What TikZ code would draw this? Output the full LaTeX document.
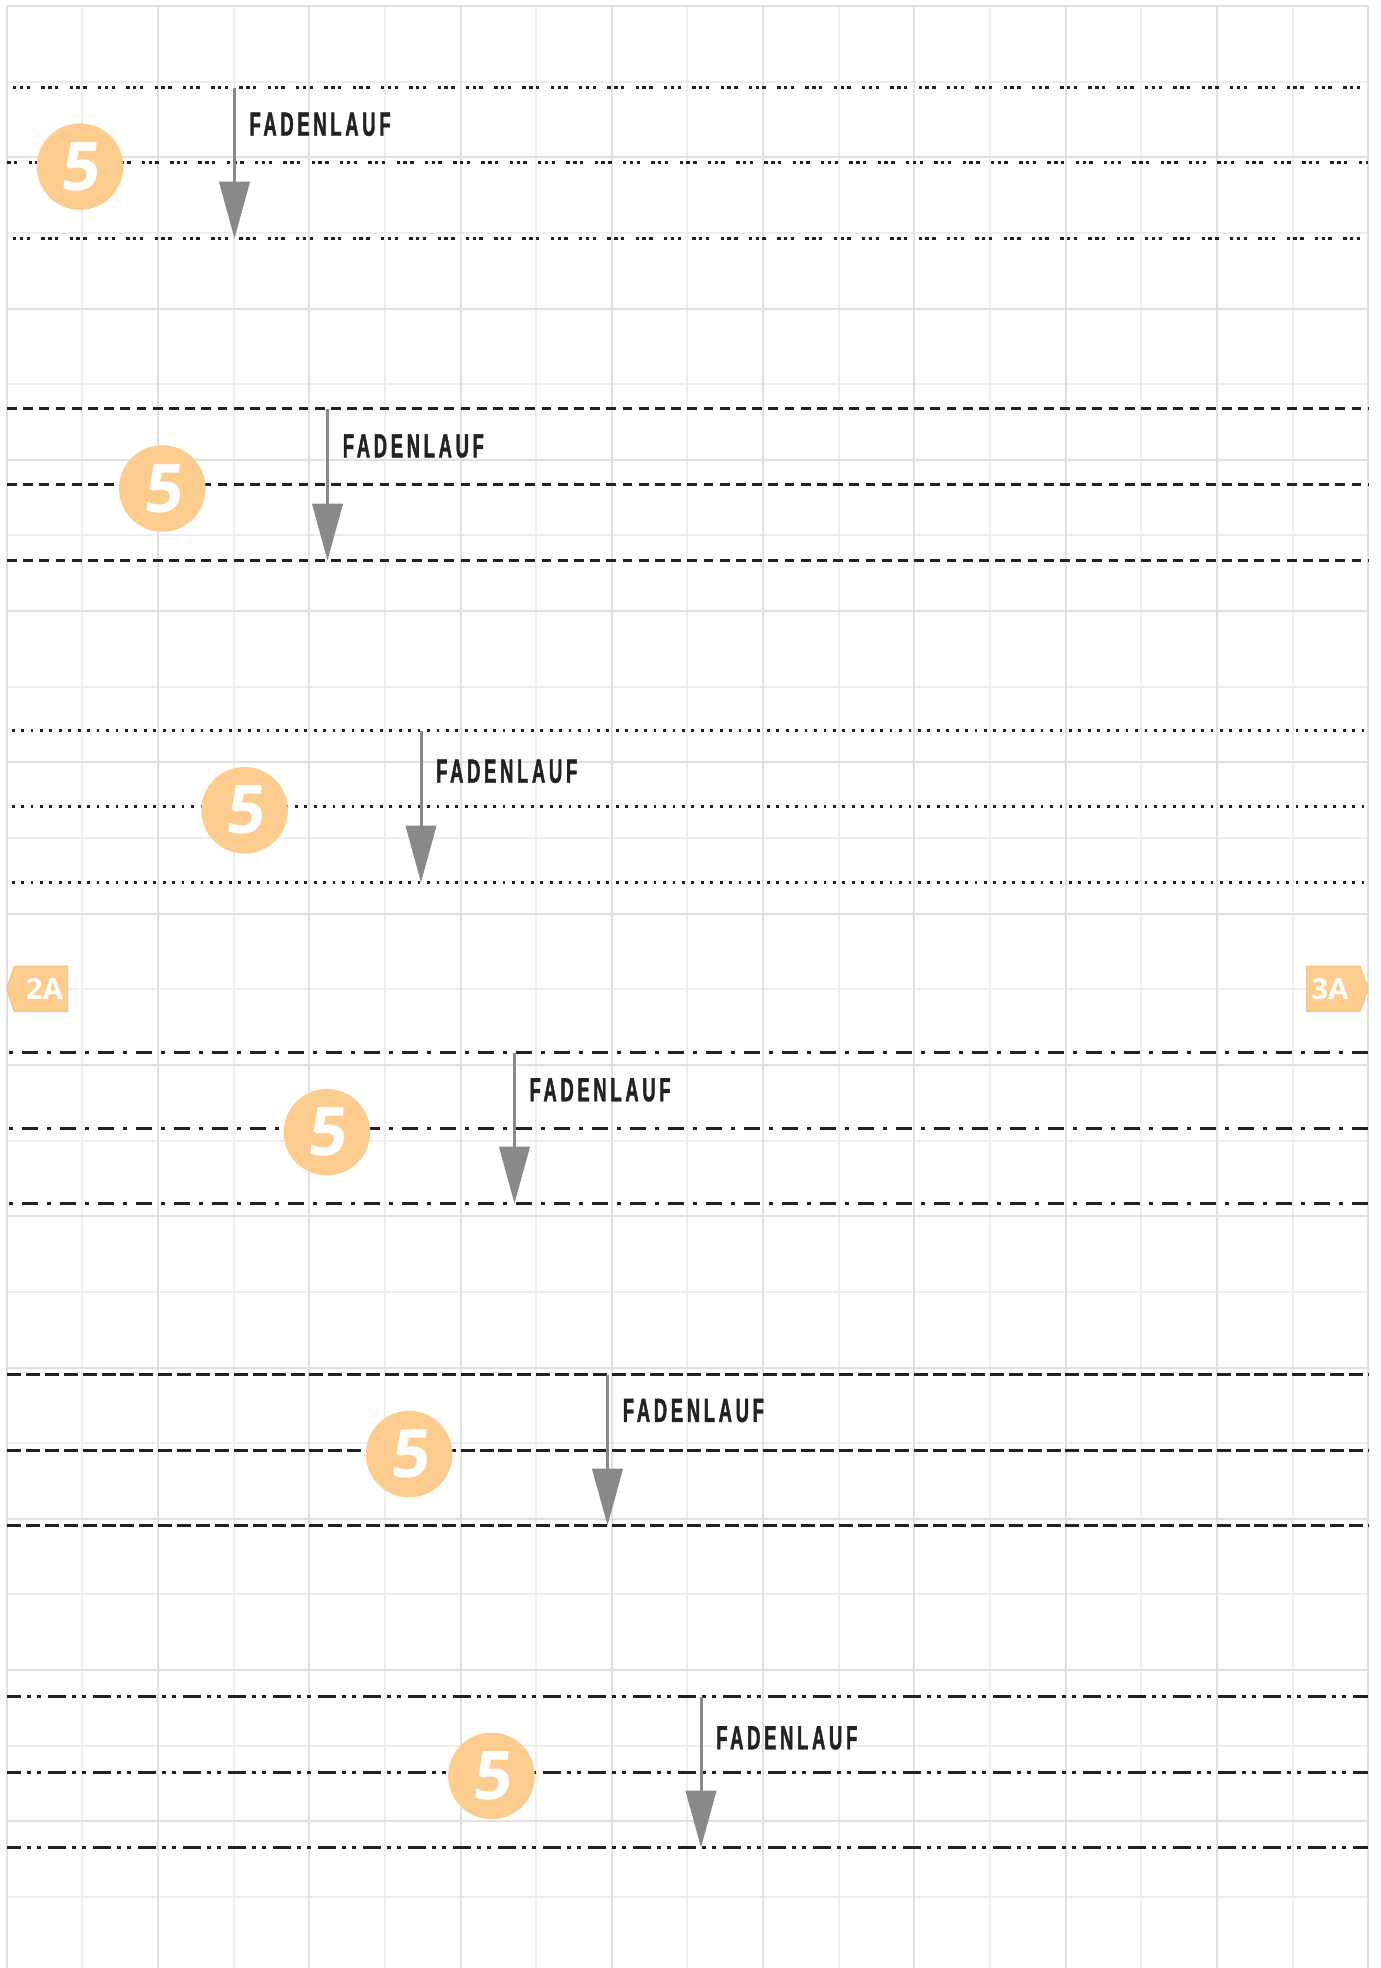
\documentclass[tikz,border=0pt]{standalone}
\usepackage{fontspec}
\usetikzlibrary{arrows.meta}
\newfontfamily\fadenfont{Liberation Sans}[FakeStretch=0.55,LetterSpace=11,FakeBold=1.2]
\newfontfamily\opensans{Open Sans}
\newfontfamily\badgefont{Open Sans}[FakeSlant=0.1]
\definecolor{gridlight}{HTML}{EEEEEE}
\definecolor{griddark}{HTML}{E0E0E0}
\definecolor{ink}{HTML}{222222}
\definecolor{arrowgray}{HTML}{898989}
\definecolor{badge}{HTML}{FDCC8F}
\definecolor{badgeedge}{HTML}{EDBB80}
\tikzset{
  gridminor/.style={draw=gridlight, line width=2pt},
  gridmajor/.style={draw=griddark, line width=2pt},
  patline/.style={draw=ink, line width=3pt},
  pdotgroup/.style={patline, dash pattern=on 3.4pt off 3.4pt on 3.4pt off 3.4pt on 3.4pt off 11.3pt},
  pdash/.style={patline, dash pattern=on 9.7pt off 6.5pt},
  pdot/.style={patline, dash pattern=on 2.8pt off 6.64pt},
  pdashdot/.style={patline, dash pattern=on 4pt off 9pt on 16pt off 9pt},
  plongdash/.style={patline, dash pattern=on 14pt off 4.9pt},
  pdashdotdot/.style={patline, dash pattern=on 18pt off 6pt on 4pt off 6pt on 4pt off 7pt, dash phase=4pt},
  grainarrow/.style={draw=arrowgray, line width=3pt, -{Triangle[length=57pt,width=30.4pt]}},
  grainlabel/.style={anchor=base west, inner sep=0pt, text=ink, font={\fadenfont\bfseries\fontsize{33.5pt}{33.5pt}\selectfont}},
  numbadge/.style={circle, fill=badge, minimum size=86.6pt, inner sep=0pt, text=white, font={\badgefont\bfseries\fontsize{67pt}{67pt}\selectfont}},
  tagshape/.style={fill=badge, draw=badgeedge, line width=0.8pt},
  tagtext/.style={inner sep=0pt, text=white, font={\opensans\bfseries\fontsize{29pt}{29pt}\selectfont}},
}
\begin{document}
\begin{tikzpicture}[x=1pt,y=-1pt]
\fill[white] (0,0) rectangle (1381,1968);
\useasboundingbox (0,0) rectangle (1381,1968);
% grid
\foreach \i in {1,3,...,17} { \draw[gridminor] ({round(6.7+75.64*\i)},6) -- ({round(6.7+75.64*\i)},1968); }
\foreach \j in {1,3,...,25} { \draw[gridminor] (7,{round(6+75.64*\j)}) -- (1368,{round(6+75.64*\j)}); }
\foreach \i in {0,2,...,18} { \draw[gridmajor] ({round(6.7+75.64*\i)},6) -- ({round(6.7+75.64*\i)},1968); }
\foreach \j in {0,2,...,24} { \draw[gridmajor] (7,{round(6+75.64*\j)}) -- (1368,{round(6+75.64*\j)}); }
% group 1
\draw[pdotgroup] (13,87.5) -- (1368,87.5);
\draw[pdotgroup, dash phase=6.7pt] (7,162.5) -- (1368,162.5);
\draw[pdotgroup] (13,238.5) -- (1368,238.5);
% group 2
\draw[pdash] (7,408.5) -- (1368,408.5);
\draw[pdash] (7,484.5) -- (1368,484.5);
\draw[pdash] (7,560.5) -- (1368,560.5);
% group 3
\draw[pdot] (11.7,730.5) -- (1368,730.5);
\draw[pdot] (11.7,806.5) -- (1368,806.5);
\draw[pdot] (11.7,882.5) -- (1368,882.5);
% group 4
\draw[pdashdot] (9.3,1052.5) -- (1368,1052.5);
\draw[pdashdot] (9.3,1128.5) -- (1368,1128.5);
\draw[pdashdot] (9.3,1203.5) -- (1368,1203.5);
% group 5
\draw[plongdash] (7,1374.5) -- (1368,1374.5);
\draw[plongdash] (7,1450.5) -- (1368,1450.5);
\draw[plongdash] (7,1525.5) -- (1368,1525.5);
% group 6
\draw[pdashdotdot] (7,1696.5) -- (1368,1696.5);
\draw[pdashdotdot] (7,1772.5) -- (1368,1772.5);
\draw[pdashdotdot] (7,1847.5) -- (1368,1847.5);
% arrows
\coordinate (a1s) at (234.5,87.5);   \coordinate (a1e) at (234.5,238.5);
\coordinate (a2s) at (327.5,408.5);  \coordinate (a2e) at (327.5,560.5);
\coordinate (a3s) at (421,730.5);    \coordinate (a3e) at (421,882.5);
\coordinate (a4s) at (514.5,1052.5); \coordinate (a4e) at (514.5,1203.5);
\coordinate (a5s) at (607.5,1374.5); \coordinate (a5e) at (607.5,1525.5);
\coordinate (a6s) at (701,1696.5);   \coordinate (a6e) at (701,1847.5);
\foreach \k in {1,...,6} { \draw[grainarrow] (a\k s) -- (a\k e); }
% labels
\node[grainlabel] (l1) at (249.3,135.7) {FADENLAUF};
\node[grainlabel] (l2) at (342.65,457.35) {FADENLAUF};
\node[grainlabel] (l3) at (436,782.7) {FADENLAUF};
\node[grainlabel] (l4) at (529.35,1101.25) {FADENLAUF};
\node[grainlabel] (l5) at (622.7,1421.9) {FADENLAUF};
\node[grainlabel] (l6) at (716.05,1749.25) {FADENLAUF};
% badges
\node[numbadge] (c1) at (80,166.65) {5};
\node[numbadge] (c2) at (162.3,488.5) {5};
\node[numbadge] (c3) at (244.6,810.35) {5};
\node[numbadge] (c4) at (326.9,1132.2) {5};
\node[numbadge] (c5) at (409.2,1454.05) {5};
\node[numbadge] (c6) at (491.5,1775.9) {5};
% page tags
\fill[tagshape] (67.7,966) -- (14.3,966) -- (6.7,988.8) -- (14.3,1011.7) -- (67.7,1011.7) -- cycle;
\node[tagtext] (t2a) at (44.5,988.8) {2A};
\fill[tagshape] (1306.7,966) -- (1360,966) -- (1368.3,988.8) -- (1360,1011.7) -- (1306.7,1011.7) -- cycle;
\node[tagtext] (t3a) at (1330,988.8) {3A};
\end{tikzpicture}
\end{document}
